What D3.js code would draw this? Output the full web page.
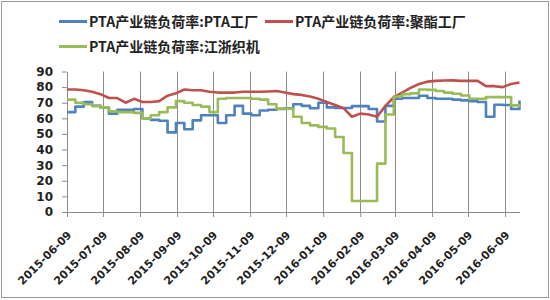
<!DOCTYPE html>
<html><head><meta charset="utf-8">
<script src="https://cdn.jsdelivr.net/npm/d3@7"></script>
<style>body{margin:0;background:#fff}svg{display:block}</style>
</head><body>
<svg id="c" width="550" height="300"></svg>
<script>
const startDate = "2015-06-09";
const endDate = "2016-06-21";
const seriesNames = ["PTA产业链负荷率:PTA工厂", "PTA产业链负荷率:聚酯工厂", "PTA产业链负荷率:江浙织机"];
const seriesColors = ["#4F81BD", "#C0504D", "#9BBB59"];
const xTickLabels = ["2015-06-09","2015-07-09","2015-08-09","2015-09-09","2015-10-09","2015-11-09","2015-12-09","2016-01-09","2016-02-09","2016-03-09","2016-04-09","2016-05-09","2016-06-09"];
const yTicks = [0,10,20,30,40,50,60,70,80,90];
// weekly observations starting 2015-06-09
const ptaFactory = [64,67.5,70.5,68,67,63,65.5,65.5,66,60,59,58.5,51,57,53,58.7,62,62,57,62,68,63,62,65,65.5,66,66.5,69,68,66.5,70,67,66.6,66.6,67.8,67.8,66,58,68,72.5,73,73,74.5,73,72.5,72.5,72,71.5,71,70.5,61,68.7,68.5,66,71.5];
const polyester = [78.5,78.5,78,77,75.5,73,73,70,72.5,70.5,70.5,71,74.5,76,78.5,78,78,77,76.5,76.5,76.5,77,77,77,77.2,77.5,76.5,75.5,75,74,72.5,70.5,68.5,66.5,61,63,62.5,61,68,73.5,76.5,79.5,82,83.5,84,84.2,84.3,84,84,84,80.6,80.6,80,82,83];
const weaving = [72,70,69,68,67,64.5,64,64,63.5,60,62,64,67,71,70,68.5,67.5,64,72.5,73,73,73,72.5,72,69,66.2,66.2,61,57,55.5,54.5,53.5,48,37.8,7,7,7,31,62.5,74,75.5,76,78.5,78.2,77.5,76.5,75.7,74.6,72.5,72.5,73.6,73.6,73.6,68.3,67];

const parse = d3.timeParse("%Y-%m-%d");
const fmt = d3.timeFormat("%Y-%m-%d");
const t0 = parse(startDate);
const dates = ptaFactory.map((_, i) => d3.timeDay.offset(t0, 7 * i));
const allSeries = [ptaFactory, polyester, weaving];
const curves = [d3.curveStepAfter, d3.curveLinear, d3.curveStepAfter];

const svg = d3.select("#c");
const x = d3.scaleTime().domain([t0, parse(endDate)]).range([67, 519.5]);
const y = d3.scaleLinear().domain([0, 90]).range([212, 71.5]);
const tickDates = xTickLabels.map(parse);

svg.append("rect").attr("x",1.5).attr("y",1.5).attr("width",547).attr("height",296)
  .attr("fill","#fff").attr("stroke","#9a9a9a").attr("stroke-width",1);

// vertical gridlines
svg.append("g").selectAll("line").data(tickDates.slice(1)).join("line")
  .attr("x1", d => Math.round(x(d)) + 0.5).attr("x2", d => Math.round(x(d)) + 0.5)
  .attr("y1", y(90)).attr("y2", y(0))
  .attr("stroke", "#8c8c8c").attr("stroke-width", 1);

// x axis
const xAxis = svg.append("g").attr("transform", `translate(0,${y(0)})`)
  .call(d3.axisBottom(x).tickValues(tickDates).tickFormat(fmt).tickSize(5).tickSizeOuter(0));
xAxis.select(".domain").attr("stroke", "#8c8c8c");
xAxis.selectAll(".tick line").attr("stroke", "#8c8c8c");
xAxis.selectAll(".tick text")
  .attr("font-family", "DejaVu Sans, sans-serif").attr("font-weight", "bold").attr("font-size", 11)
  .attr("fill", "#222").attr("text-anchor", "end")
  .attr("y", 0).attr("dy", "0.35em")
  .attr("transform", "translate(2,21) rotate(-45)");

// y axis
const yAxis = svg.append("g").attr("transform", `translate(67,0)`)
  .call(d3.axisLeft(y).tickValues(yTicks).tickSize(5).tickSizeOuter(0).tickPadding(9));
yAxis.select(".domain").attr("stroke", "#8c8c8c");
yAxis.selectAll(".tick line").attr("stroke", "#8c8c8c");
yAxis.selectAll(".tick text")
  .attr("font-family", "DejaVu Sans, sans-serif").attr("font-weight", "bold").attr("font-size", 12)
  .attr("fill", "#222");

// lines
svg.append("g").selectAll("path").data(allSeries).join("path")
  .attr("d", (d, i) => d3.line().curve(curves[i]).x((v, j) => x(dates[j])).y(v => y(v))(d))
  .attr("fill", "none")
  .attr("stroke", (d, i) => seriesColors[i]).attr("stroke-width", 2.6)
  .attr("stroke-linejoin", "round");

// legend
const legendPos = [[59, 21.5], [265, 21.5], [59, 46.5]];
const lg = svg.append("g").selectAll("g").data(seriesNames).join("g")
  .attr("transform", (d, i) => `translate(${legendPos[i][0]},${legendPos[i][1]})`);
lg.append("line").attr("x1", 0).attr("x2", 28).attr("y1", 0).attr("y2", 0)
  .attr("stroke", (d, i) => seriesColors[i]).attr("stroke-width", 3);
lg.append("text").attr("x", 30).attr("y", 0).attr("dy", "0.36em")
  .attr("font-family", "Noto Sans CJK SC, sans-serif").attr("font-weight", "bold").attr("font-size", 14)
  .attr("fill", "#222").text(d => d);
</script>
</body></html>
